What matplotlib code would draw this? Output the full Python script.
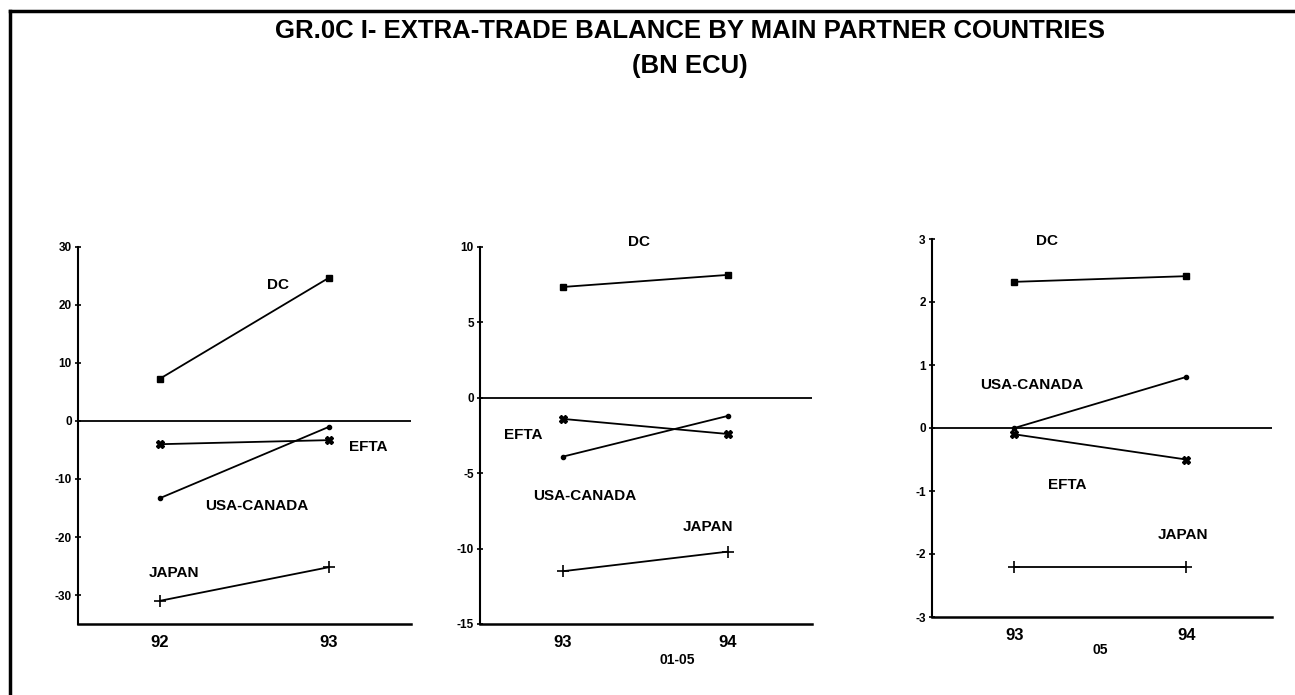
import matplotlib.pyplot as plt
from matplotlib.lines import Line2D

plt.rcParams['font.family'] = ['Liberation Sans', 'DejaVu Sans']
plt.rcParams['font.weight'] = 'bold'

# panel 1: 92 -> 93
years1 = [92, 93]
dc1 = [7.3, 24.7]
efta1 = [-4.0, -3.3]
usa1 = [-13.3, -1.0]
japan1 = [-31.0, -25.2]

# panel 2: 93 -> 94 (01-05)
years2 = [93, 94]
dc2 = [7.35, 8.15]
efta2 = [-1.4, -2.4]
usa2 = [-3.9, -1.2]
japan2 = [-11.5, -10.2]

# panel 3: 93 -> 94 (05)
years3 = [93, 94]
dc3 = [2.32, 2.41]
efta3 = [-0.1, -0.5]
usa3 = [0.0, 0.81]
japan3 = [-2.2, -2.2]

narrow = ['Liberation Sans Narrow', 'Liberation Sans', 'DejaVu Sans']

fig = plt.figure(figsize=(12.95, 6.95), dpi=100)

# frame around the page
fig.add_artist(Line2D([10/1295, 10/1295], [0, 1 - 11/695], color='black', lw=2.5))
fig.add_artist(Line2D([10/1295, 1], [1 - 11/695, 1 - 11/695], color='black', lw=2.5))

fig.text(0.533, 1 - 31/695, 'GR.0C I- EXTRA-TRADE BALANCE BY MAIN PARTNER COUNTRIES',
         ha='center', va='center', fontsize=18.5, fontweight='bold', family=narrow)
fig.text(0.533, 1 - 66/695, '(BN ECU)', ha='center', va='center', fontsize=18.5,
         fontweight='bold', family=narrow)


def panel(rect, years, dc, efta, usa, japan, ylim, yticks, xlim, labels, xlabels, sub=None):
    ax = fig.add_axes(rect)
    ax.plot(years, dc, color='black', lw=1.3, marker='s', ms=5)
    ax.plot(years, efta, color='black', lw=1.3, marker='X', ms=6)
    ax.plot(years, usa, color='black', lw=1.3, marker='o', ms=3)
    ax.plot(years, japan, color='black', lw=1.3, marker='+', ms=9, mew=1.2)
    ax.axhline(0, color='black', lw=1.3)
    ax.set_xlim(*xlim)
    ax.set_ylim(*ylim)
    ax.set_yticks(yticks)
    ax.set_yticklabels([str(t) for t in yticks], fontsize=8.5, fontweight='bold',
                       family=narrow)
    ax.set_xticks(years)
    ax.set_xticklabels(xlabels, fontsize=12, fontweight='bold', family=narrow)
    ax.tick_params(axis='x', length=0, pad=8)
    ax.tick_params(axis='y', length=5, width=1.2, direction='inout', pad=2)
    for s in ['top', 'right']:
        ax.spines[s].set_visible(False)
    ax.spines['left'].set_linewidth(1.5)
    ax.spines['bottom'].set_linewidth(1.8)
    for txt, x, y in labels:
        ax.text(x, y, txt, ha='center', va='center', fontsize=11, fontweight='bold',
                clip_on=False)
    if sub:
        ax.text(sub[1], sub[2], sub[0], transform=ax.transAxes, ha='center', va='center',
                fontsize=10, fontweight='bold')
    return ax


panel([78/1295, 1 - 624/695, 333/1295, 377/695], years1, dc1, efta1, usa1, japan1,
      (-35, 30), [30, 20, 10, 0, -10, -20, -30], (91.515, 93.485),
      [('DC', 92.70, 23.4), ('EFTA', 93.23, -4.5), ('USA-CANADA', 92.57, -14.7),
       ('JAPAN', 92.08, -26.2)], ['92', '93'])

panel([480/1295, 1 - 624/695, 332/1295, 377/695], years2, dc2, efta2, usa2, japan2,
      (-15, 10), [10, 5, 0, -5, -10, -15], (92.497, 94.51),
      [('DC', 93.46, 10.3), ('EFTA', 92.76, -2.45), ('USA-CANADA', 93.13, -6.5),
       ('JAPAN', 93.88, -8.6)], ['93', '94'], sub=('01-05', 0.593, -0.095))

panel([932/1295, 1 - 617/695, 340/1295, 378/695], years3, dc3, efta3, usa3, japan3,
      (-3, 3), [3, 2, 1, 0, -1, -2, -3], (92.52, 94.5),
      [('DC', 93.19, 2.97), ('USA-CANADA', 93.10, 0.68), ('EFTA', 93.31, -0.9),
       ('JAPAN', 93.98, -1.7)], ['93', '94'], sub=('05', 0.494, -0.087))

fig.savefig('out.png', dpi=100)
